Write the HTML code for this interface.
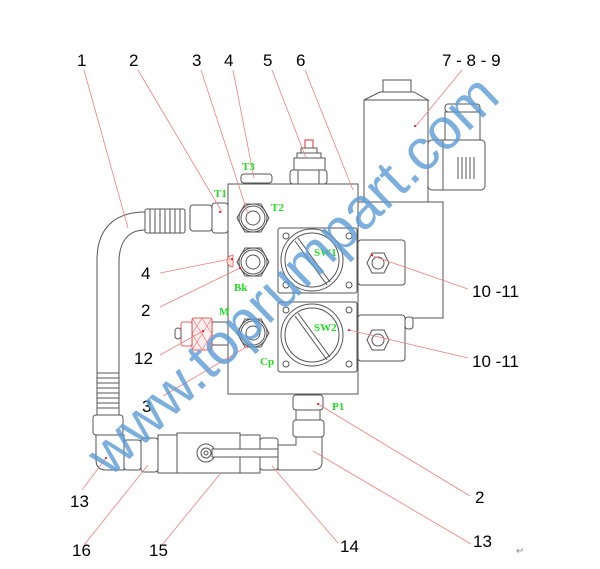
<!DOCTYPE html>
<html><head><meta charset="utf-8"><style>
html,body{margin:0;padding:0;background:#fff;}
svg{display:block;}
.d{fill:none;stroke:#555;stroke-width:1;}
.w{fill:#fff;stroke:#555;stroke-width:1;}
.r{stroke:#f08080;stroke-width:0.8;fill:none;}
.n{font-family:"Liberation Sans",Arial,sans-serif;font-size:17px;fill:#000;}
.g{font-family:"Liberation Serif",serif;font-size:11px;fill:#22dd22;font-weight:bold;}
.dot{fill:#e00;}
</style></head><body>
<svg width="600" height="569" viewBox="0 0 600 569" xmlns="http://www.w3.org/2000/svg">
<rect class="w" x="383" y="80" width="28" height="12"/>
<path class="w" d="M380 92 L414 92 L428 100 L364 100 Z"/>
<rect class="w" x="364" y="100" width="64" height="102"/>
<rect class="w" x="445" y="104" width="35" height="8" rx="3"/>
<rect class="w" x="445" y="112" width="35" height="40"/>
<rect class="w" x="428" y="140" width="57" height="50" rx="4"/>
<line class="d" x1="443" y1="140" x2="443" y2="190"/>
<path class="d" d="M458 157v22M462 157v22M466 157v22M470 157v22M474 157v22"/>
<rect class="w" x="358" y="202" width="85" height="116"/>
<rect class="w" x="405" y="317" width="8" height="12" rx="3"/>
<rect x="305" y="140" width="8" height="8" fill="#fff" stroke="#d33"/>
<rect class="w" x="301" y="148" width="16" height="5"/>
<rect class="w" x="297" y="153" width="24" height="5"/>
<rect class="w" x="294" y="158" width="31" height="12"/>
<rect class="w" x="290" y="170" width="37" height="14" rx="3"/>
<path class="d" d="M298 170v14M319 170v14"/>
<rect class="w" x="241" y="174" width="31" height="9" rx="3"/>
<rect class="w" x="228" y="184" width="130" height="210"/>
<g>
<polygon class="w" points="237,218 245,204 261,204 269,218 261,232 245,232"/>
<circle class="d" cx="253" cy="218" r="14"/><circle class="d" cx="253" cy="218" r="12"/><circle class="d" cx="253" cy="218" r="7"/>
<polygon class="w" points="237,262 245,248 261,248 269,262 261,276 245,276"/>
<circle class="d" cx="253" cy="262" r="14"/><circle class="d" cx="253" cy="262" r="12"/><circle class="d" cx="253" cy="262" r="7"/>
<polygon class="w" points="237,333 245,319 261,319 269,333 261,347 245,347"/>
<circle class="d" cx="253" cy="333" r="14"/><circle class="d" cx="253" cy="333" r="12"/><circle class="d" cx="253" cy="333" r="7"/>
<path d="M233 255 a6 6 0 0 0 0 12z" fill="#fdd" stroke="#d33" stroke-width="0.6"/>
</g>
<rect class="w" x="358" y="240" width="47" height="45" rx="3"/>
<polygon class="w" points="367,263 372,253 384,253 389,263 384,273 372,273"/>
<circle class="d" cx="378" cy="263" r="6"/>
<rect class="w" x="278" y="228" width="79" height="65" rx="2"/>
<circle class="d" cx="312" cy="260" r="31"/><circle class="d" cx="312" cy="260" r="27"/>
<line class="d" x1="298" y1="238" x2="330" y2="282"/><line class="d" x1="295" y1="241" x2="327" y2="285"/>
<circle class="d" cx="286" cy="236" r="3"/><circle class="d" cx="349" cy="236" r="3"/><circle class="d" cx="286" cy="285" r="3"/><circle class="d" cx="349" cy="285" r="3"/>
<rect class="w" x="358" y="315" width="47" height="46" rx="3"/>
<polygon class="w" points="367,340 372,330 384,330 389,340 384,350 372,350"/>
<circle class="d" cx="378" cy="340" r="6"/>
<rect class="w" x="278" y="302" width="79" height="70" rx="2"/>
<circle class="d" cx="312" cy="335" r="31"/><circle class="d" cx="312" cy="335" r="27"/>
<line class="d" x1="298" y1="313" x2="330" y2="357"/><line class="d" x1="295" y1="316" x2="327" y2="360"/>
<circle class="d" cx="286" cy="310" r="3"/><circle class="d" cx="349" cy="310" r="3"/><circle class="d" cx="286" cy="364" r="3"/><circle class="d" cx="349" cy="364" r="3"/>
<rect class="w" x="212" y="203" width="16" height="30" rx="3"/>
<rect class="w" x="190" y="205" width="22" height="26" rx="3"/>
<rect class="w" x="145" y="209" width="40" height="24" rx="2"/>
<path class="d" d="M150 209v24M155 209v24M160 209v24M165 209v24M170 209v24M175 209v24M180 209v24"/>
<path class="d" d="M145 212 C115 212 97 228 97 260 L97 373 M145 230 C128 230 119 242 119 262 L119 373"/>
<rect class="w" x="97" y="373" width="22" height="42"/>
<path class="d" d="M97 378h22M97 383h22M97 388h22M97 393h22M97 398h22M97 403h22M97 408h22"/>
<rect class="w" x="93" y="415" width="30" height="20" rx="3"/>
<path class="w" d="M96 435 L124 435 L124 470 L106 470 Q96 470 96 460 Z"/>
<rect class="w" x="212" y="322" width="16" height="23"/>
<rect x="192" y="318" width="20" height="32" rx="2" fill="#fee" stroke="#d33" stroke-width="0.8"/>
<path d="M192 318l20 32M192 334l10 16M202 318l10 16M212 318l-20 32M212 334l-10 16M202 318l-10 16" stroke="#e66" stroke-width="0.6"/>
<rect x="181" y="322" width="11" height="24" rx="2" fill="#fff" stroke="#d33" stroke-width="0.8"/>
<rect class="w" x="175" y="328" width="6" height="11" rx="3"/>
<rect class="w" x="124" y="440" width="17" height="30" rx="3"/>
<rect class="w" x="141" y="438" width="17" height="34" rx="3"/>
<rect class="w" x="158" y="435" width="19" height="38"/>
<rect class="w" x="177" y="433" width="63" height="40"/>
<rect class="w" x="240" y="435" width="20" height="38"/>
<rect class="w" x="260" y="438" width="18" height="32" rx="3"/>
<circle class="d" cx="206" cy="453" r="9"/><circle class="d" cx="206" cy="453" r="5"/><circle class="d" cx="206" cy="453" r="2"/>
<path class="w" d="M212 449 L288 449 a4 4 0 0 1 0 8 L212 457 Z"/>
<rect class="w" x="293" y="395" width="30" height="15" rx="3"/>
<rect class="w" x="296" y="410" width="24" height="10"/>
<rect class="w" x="293" y="420" width="31" height="17" rx="3"/>
<path class="w" d="M296 437 L322 437 L322 462 Q322 470 312 470 L278 470 L278 445 L296 445 Z"/>
<g class="r">
<line x1="84" y1="70" x2="128" y2="228"/>
<line x1="138" y1="70" x2="222" y2="212"/>
<line x1="201" y1="70" x2="248" y2="214"/>
<line x1="233" y1="70" x2="254" y2="178"/>
<line x1="272" y1="70" x2="306" y2="158"/>
<line x1="305" y1="70" x2="353" y2="190"/>
<line x1="462" y1="70" x2="416" y2="126"/>
<line x1="468" y1="289" x2="370" y2="255"/>
<line x1="468" y1="358" x2="349" y2="330"/>
<line x1="160" y1="273" x2="230" y2="259"/>
<line x1="160" y1="307" x2="240" y2="268"/>
<line x1="160" y1="355" x2="203" y2="331"/>
<line x1="163" y1="396" x2="248" y2="346"/>
<line x1="82" y1="490" x2="106" y2="458"/>
<line x1="84" y1="545" x2="148" y2="465"/>
<line x1="162" y1="545" x2="220" y2="474"/>
<line x1="338" y1="543" x2="272" y2="466"/>
<line x1="471" y1="544" x2="313" y2="451"/>
<line x1="470" y1="496" x2="318" y2="404"/>
</g>
<g class="dot">
<circle cx="415" cy="126" r="1"/><circle cx="372" cy="255" r="1"/><circle cx="349" cy="330" r="1"/><circle cx="220" cy="212" r="1"/>
<circle cx="232" cy="259" r="1"/><circle cx="240" cy="268" r="1"/><circle cx="203" cy="331" r="1"/><circle cx="248" cy="346" r="1"/>
<circle cx="106" cy="458" r="1"/><circle cx="318" cy="404" r="1"/>
</g>
<text class="g" x="242" y="170">T3</text>
<text class="g" x="214" y="197">T1</text>
<text class="g" x="271" y="211">T2</text>
<text class="g" x="314" y="256">SW1</text>
<text class="g" x="314" y="331">SW2</text>
<text class="g" x="234" y="291">Bk</text>
<text class="g" x="219" y="315">M</text>
<text class="g" x="260" y="365">Cp</text>
<text class="g" x="332" y="410">P1</text>
<text class="n" x="77" y="66">1</text>
<text class="n" x="129" y="66">2</text>
<text class="n" x="192" y="66">3</text>
<text class="n" x="224" y="66">4</text>
<text class="n" x="263" y="66">5</text>
<text class="n" x="296" y="66">6</text>
<text class="n" x="442" y="66">7 - 8 - 9</text>
<text class="n" x="472" y="297">10 -11</text>
<text class="n" x="472" y="367">10 -11</text>
<text class="n" x="141" y="279">4</text>
<text class="n" x="141" y="316">2</text>
<text class="n" x="134" y="364">12</text>
<text class="n" x="142" y="412">3</text>
<text class="n" x="70" y="507">13</text>
<text class="n" x="72" y="556">16</text>
<text class="n" x="149" y="556">15</text>
<text class="n" x="340" y="552">14</text>
<text class="n" x="475" y="503">2</text>
<text class="n" x="473" y="547">13</text>
<text x="516" y="554" font-family="DejaVu Sans,sans-serif" font-size="10" fill="#888">↵</text>
<text x="0" y="0" transform="translate(110,478) rotate(-44)" font-family="Liberation Sans,sans-serif" font-size="58" fill="#5b9bd5" fill-opacity="0.8" textLength="545" lengthAdjust="spacingAndGlyphs">www.toprumpart.com</text>
</svg>
</body></html>
